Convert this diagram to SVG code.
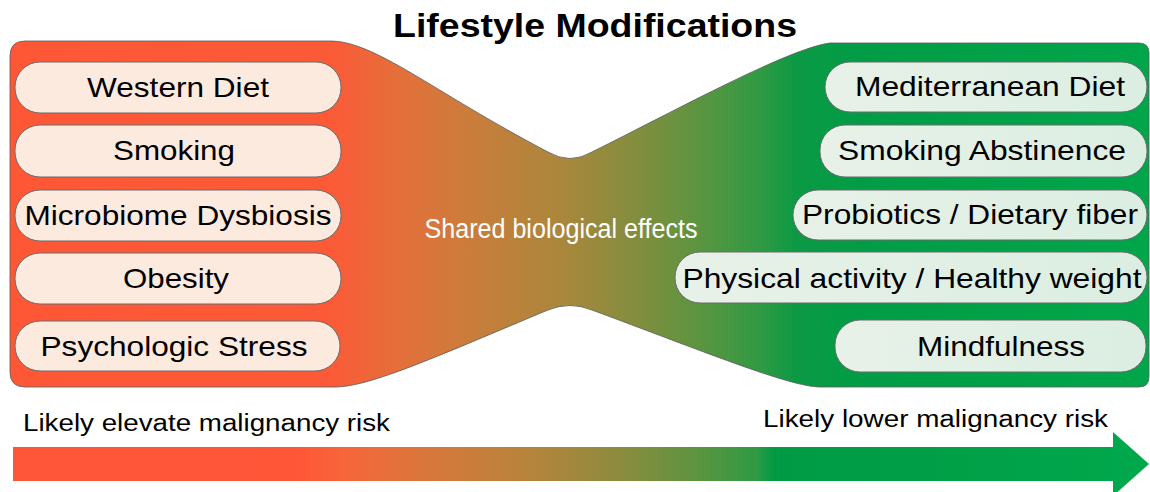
<svg xmlns="http://www.w3.org/2000/svg" width="1150" height="492" viewBox="0 0 1150 492">
<defs>
<linearGradient id="bodyGrad" gradientUnits="userSpaceOnUse" x1="10" y1="0" x2="1149" y2="0">
<stop offset="0" stop-color="#FF5736"/>
<stop offset="0.28" stop-color="#FC5A37"/>
<stop offset="0.305" stop-color="#F26238"/>
<stop offset="0.345" stop-color="#E3703A"/>
<stop offset="0.405" stop-color="#CA7D3B"/>
<stop offset="0.485" stop-color="#AA873C"/>
<stop offset="0.555" stop-color="#7F8E3E"/>
<stop offset="0.607" stop-color="#5A9540"/>
<stop offset="0.66" stop-color="#2E9A43"/>
<stop offset="0.69" stop-color="#0C9944"/>
<stop offset="0.75" stop-color="#009D46"/>
<stop offset="1" stop-color="#00A64A"/>
</linearGradient>
<linearGradient id="arrowGrad" gradientUnits="userSpaceOnUse" x1="13" y1="0" x2="1149" y2="0">
<stop offset="0" stop-color="#FF5538"/>
<stop offset="0.25" stop-color="#FF5638"/>
<stop offset="0.29" stop-color="#F8653A"/>
<stop offset="0.36" stop-color="#DA763B"/>
<stop offset="0.45" stop-color="#B8843C"/>
<stop offset="0.53" stop-color="#8E8B3E"/>
<stop offset="0.6" stop-color="#5E9440"/>
<stop offset="0.655" stop-color="#2E9A44"/>
<stop offset="0.67" stop-color="#009A45"/>
<stop offset="0.85" stop-color="#00A148"/>
<stop offset="1" stop-color="#00A84C"/>
</linearGradient>
<linearGradient id="greenPill" x1="0" y1="0" x2="1" y2="0">
<stop offset="0" stop-color="#E8F1E8"/>
<stop offset="1" stop-color="#DBEEE1"/>
</linearGradient>
<style>
.pillL{fill:#FDEADF;stroke:#6b6b6b;stroke-width:1}
.pillR{fill:url(#greenPill);stroke:#6b6b6b;stroke-width:1}
.lbl{font-family:"Liberation Sans",Arial,sans-serif;font-size:28px;fill:#000;text-anchor:middle}
.title{font-family:"Liberation Sans",Arial,sans-serif;font-size:33px;font-weight:bold;fill:#000;text-anchor:middle}
.mid{font-family:"Liberation Sans",Arial,sans-serif;font-size:27px;fill:#fff;text-anchor:middle}
.risk{font-family:"Liberation Sans",Arial,sans-serif;font-size:23px;fill:#000}
</style>
</defs>
<rect width="1150" height="492" fill="#fff"/>
<g id="title"><text class="title" x="595" y="37" textLength="404" lengthAdjust="spacingAndGlyphs">Lifestyle Modifications</text></g>
<g id="body">
<path d="M10,56 Q10,41 25,41 L330,41 C375,41 430,90 548,152 Q570,165 592,152 C680,108 790,48 830,43 L1139,43 Q1149,43 1149,53 L1149,377 Q1149,387 1139,387 L820,387 C790,387 700,350 592,310 Q570,301 548,310 C440,355 370,387 335,387 L25,387 Q10,387 10,372 Z" fill="url(#bodyGrad)" stroke="#5a5a5a" stroke-width="0.8"/>
<text class="mid" x="561" y="238" textLength="273" lengthAdjust="spacingAndGlyphs">Shared biological effects</text>
</g>
<g id="western-diet"><rect class="pillL" x="15" y="62" width="326" height="51" rx="25"/><text class="lbl" x="178" y="97" textLength="182" lengthAdjust="spacingAndGlyphs">Western Diet</text></g>
<g id="smoking"><rect class="pillL" x="15" y="125" width="326" height="52" rx="25"/><text class="lbl" x="174" y="160" textLength="122" lengthAdjust="spacingAndGlyphs">Smoking</text></g>
<g id="microbiome-dysbiosis"><rect class="pillL" x="15" y="190" width="326" height="51" rx="25"/><text class="lbl" x="178" y="225" textLength="307" lengthAdjust="spacingAndGlyphs">Microbiome Dysbiosis</text></g>
<g id="obesity"><rect class="pillL" x="15" y="253" width="326" height="51" rx="25"/><text class="lbl" x="176" y="288" textLength="106" lengthAdjust="spacingAndGlyphs">Obesity</text></g>
<g id="psychologic-stress"><rect class="pillL" x="15" y="321" width="325" height="50" rx="25"/><text class="lbl" x="174" y="356" textLength="267" lengthAdjust="spacingAndGlyphs">Psychologic Stress</text></g>
<g id="mediterranean-diet"><rect class="pillR" x="825" y="62" width="322" height="50" rx="25"/><text class="lbl" x="990" y="96" textLength="270" lengthAdjust="spacingAndGlyphs">Mediterranean Diet</text></g>
<g id="smoking-abstinence"><rect class="pillR" x="820" y="125" width="327" height="52" rx="25"/><text class="lbl" x="982" y="160" textLength="288" lengthAdjust="spacingAndGlyphs">Smoking Abstinence</text></g>
<g id="probiotics"><rect class="pillR" x="793" y="190" width="354" height="50" rx="25"/><text class="lbl" x="970" y="224" textLength="336" lengthAdjust="spacingAndGlyphs">Probiotics / Dietary fiber</text></g>
<g id="physical-activity"><rect class="pillR" x="675" y="252" width="472" height="51" rx="25"/><text class="lbl" x="912" y="288" textLength="459" lengthAdjust="spacingAndGlyphs">Physical activity / Healthy weight</text></g>
<g id="mindfulness"><rect class="pillR" x="835" y="320" width="311" height="52" rx="25"/><text class="lbl" x="1001" y="356" textLength="168" lengthAdjust="spacingAndGlyphs">Mindfulness</text></g>
<g id="connectors">
<g id="risk-arrow">
<polygon points="13,447 1113,447 1113,432 1149,464 1113,496 1113,481 13,481" fill="url(#arrowGrad)"/>
</g>
</g>
<g id="risk-labels">
<text class="risk" x="23" y="431" textLength="367" lengthAdjust="spacingAndGlyphs">Likely elevate malignancy risk</text>
<text class="risk" x="763" y="427" textLength="345" lengthAdjust="spacingAndGlyphs">Likely lower malignancy risk</text>
</g>
</svg>
